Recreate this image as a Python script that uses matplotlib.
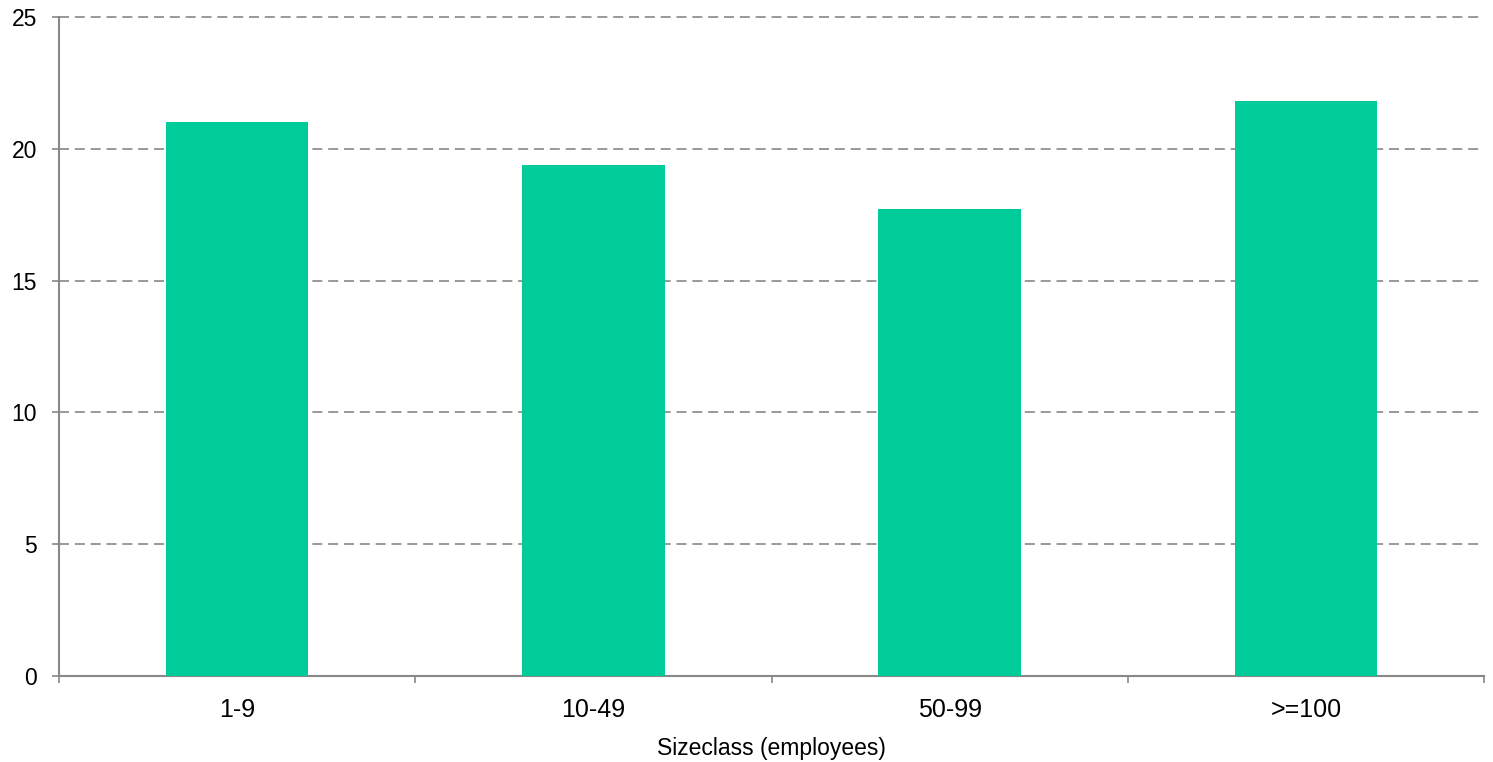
import numpy as np
import matplotlib
matplotlib.use('Agg')
import matplotlib.pyplot as plt

# size classes and their values
categories = ['1-9', '10-49', '50-99', '>=100']
values = [21.0, 19.4, 17.7, 21.8]
y_ticks = [0, 5, 10, 15, 20, 25]

plt.rcParams['font.family'] = ['Liberation Sans', 'DejaVu Sans']

fig = plt.figure(figsize=(14.93, 7.62), dpi=100)
ax = fig.add_axes([0.0395, 0.1129, 0.9545, 0.8648])

x = np.arange(len(categories))
ax.bar(x, values, width=0.4, color='#00CC99', zorder=3)

# axis ranges
ax.set_xlim(-0.5, len(categories) - 0.5)
ax.set_ylim(0, 25)

# y axis
ax.set_yticks(y_ticks)
ax.tick_params(axis='y', direction='out', length=5, width=1.2, color='#888888',
               labelsize=16.5, pad=11)
ax.yaxis.grid(True, linestyle=(0, (6, 3.5)), color='#888888', linewidth=1.2, zorder=0)
for t in ax.yaxis.get_major_ticks():
    t.gridline.set_clip_on(False)

# x axis: labels at centres, tick marks at category boundaries
ax.set_xticks(x)
ax.set_xticklabels(categories)
ax.set_xticks(np.arange(len(categories) + 1) - 0.5, minor=True)
ax.tick_params(axis='x', which='major', length=0, labelsize=18, pad=16)
ax.tick_params(axis='x', which='minor', direction='out', length=5, width=1.2,
               color='#888888')
ax.set_xlabel('Sizeclass (employees)', fontsize=16.5, labelpad=11)

for side in ['top', 'right']:
    ax.spines[side].set_visible(False)
for side in ['left', 'bottom']:
    ax.spines[side].set_color('#888888')
    ax.spines[side].set_linewidth(1.5)

plt.savefig('out.png', dpi=100)
plt.close()
